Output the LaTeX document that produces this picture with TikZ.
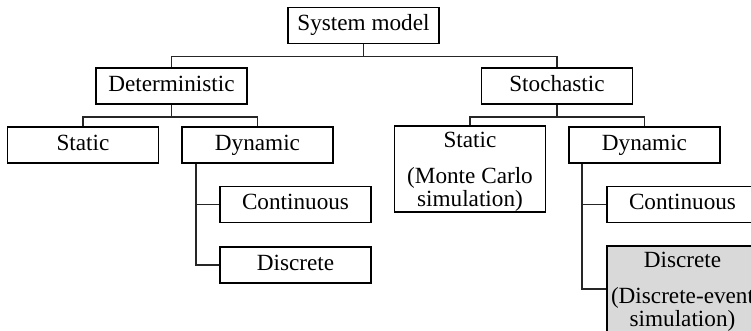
\documentclass[tikz,border=0pt]{standalone}
\usepackage{fontspec}
\setmainfont{Liberation Serif}
\usetikzlibrary{calc}
\definecolor{boxgray}{HTML}{D9D9D9}
\tikzset{
  box/.style={draw=black, line width=0.9pt, fill=white, inner sep=0pt,
    minimum width=75.5pt, minimum height=18pt,
    font=\fontsize{11.6}{12.5}\selectfont, text height=7.8pt, text depth=2.5pt},
  tallbox/.style={draw=black, line width=0.9pt, fill=white, inner sep=0pt,
    minimum width=75.5pt, minimum height=42pt, align=center,
    font=\fontsize{11.6}{11.6}\selectfont}
}
\tikzset{link/.style={draw=black!85, line width=0.8pt}}
\newcommand{\topstrut}{\rule{0pt}{10.8pt}}
\begin{document}
\begin{tikzpicture}[x=0.5pt, y=-0.5pt]
  \useasboundingbox (0,0) rectangle (751,331);
  \clip (0,0) rectangle (751,331);

  % root and first level
  \node[box] (sys) at (363.5,25.5) {System model};
  \node[box] (det) at (171.5,86) {Deterministic};
  \node[box] (sto) at (557,86) {Stochastic};

  % deterministic branch
  \node[box] (sta1) at (83,145) {Static};
  \node[box] (dyn1) at (257.5,145) {Dynamic};
  \node[box] (con1) at (295.5,204.5) {Continuous};
  \node[box] (dis1) at (295.5,265) {Discrete};

  % stochastic branch
  \node[tallbox] (sta2) at (470,169) {\topstrut Static\\[6.2pt](Monte Carlo\\simulation)};
  \node[box] (dyn2) at (644.5,145) {Dynamic};
  \node[box] (con2) at (682.5,204.5) {Continuous};
  \node[tallbox, fill=boxgray] (dis2) at (682.5,289) {\topstrut Discrete\\[6.2pt](Discrete-event\\simulation)};

  % tree connectors
  \draw[link] (sys.south) -- +(0,12) -| (det.north);
  \draw[link] (sys.south) -- +(0,12) -| (sto.north);
  \draw[link] (det.south) -- +(0,12) -| (sta1.north);
  \draw[link] (det.south) -- +(0,12) -| (dyn1.north);
  \draw[link] (sto.south) -- +(0,12) -| (sta2.north);
  \draw[link] (sto.south) -- +(0,12) -| (dyn2.north);

  % side branches of the dynamic boxes
  \coordinate (d1) at ($(dyn1.south west)+(15,0)$);
  \coordinate (d2) at ($(dyn2.south west)+(14,0)$);
  \draw[link] (d1) |- (con1.west);
  \draw[link] (d1) |- (dis1.west);
  \draw[link] (d2) |- (con2.west);
  \draw[link] (d2) |- (dis2.west);
\end{tikzpicture}
\end{document}
